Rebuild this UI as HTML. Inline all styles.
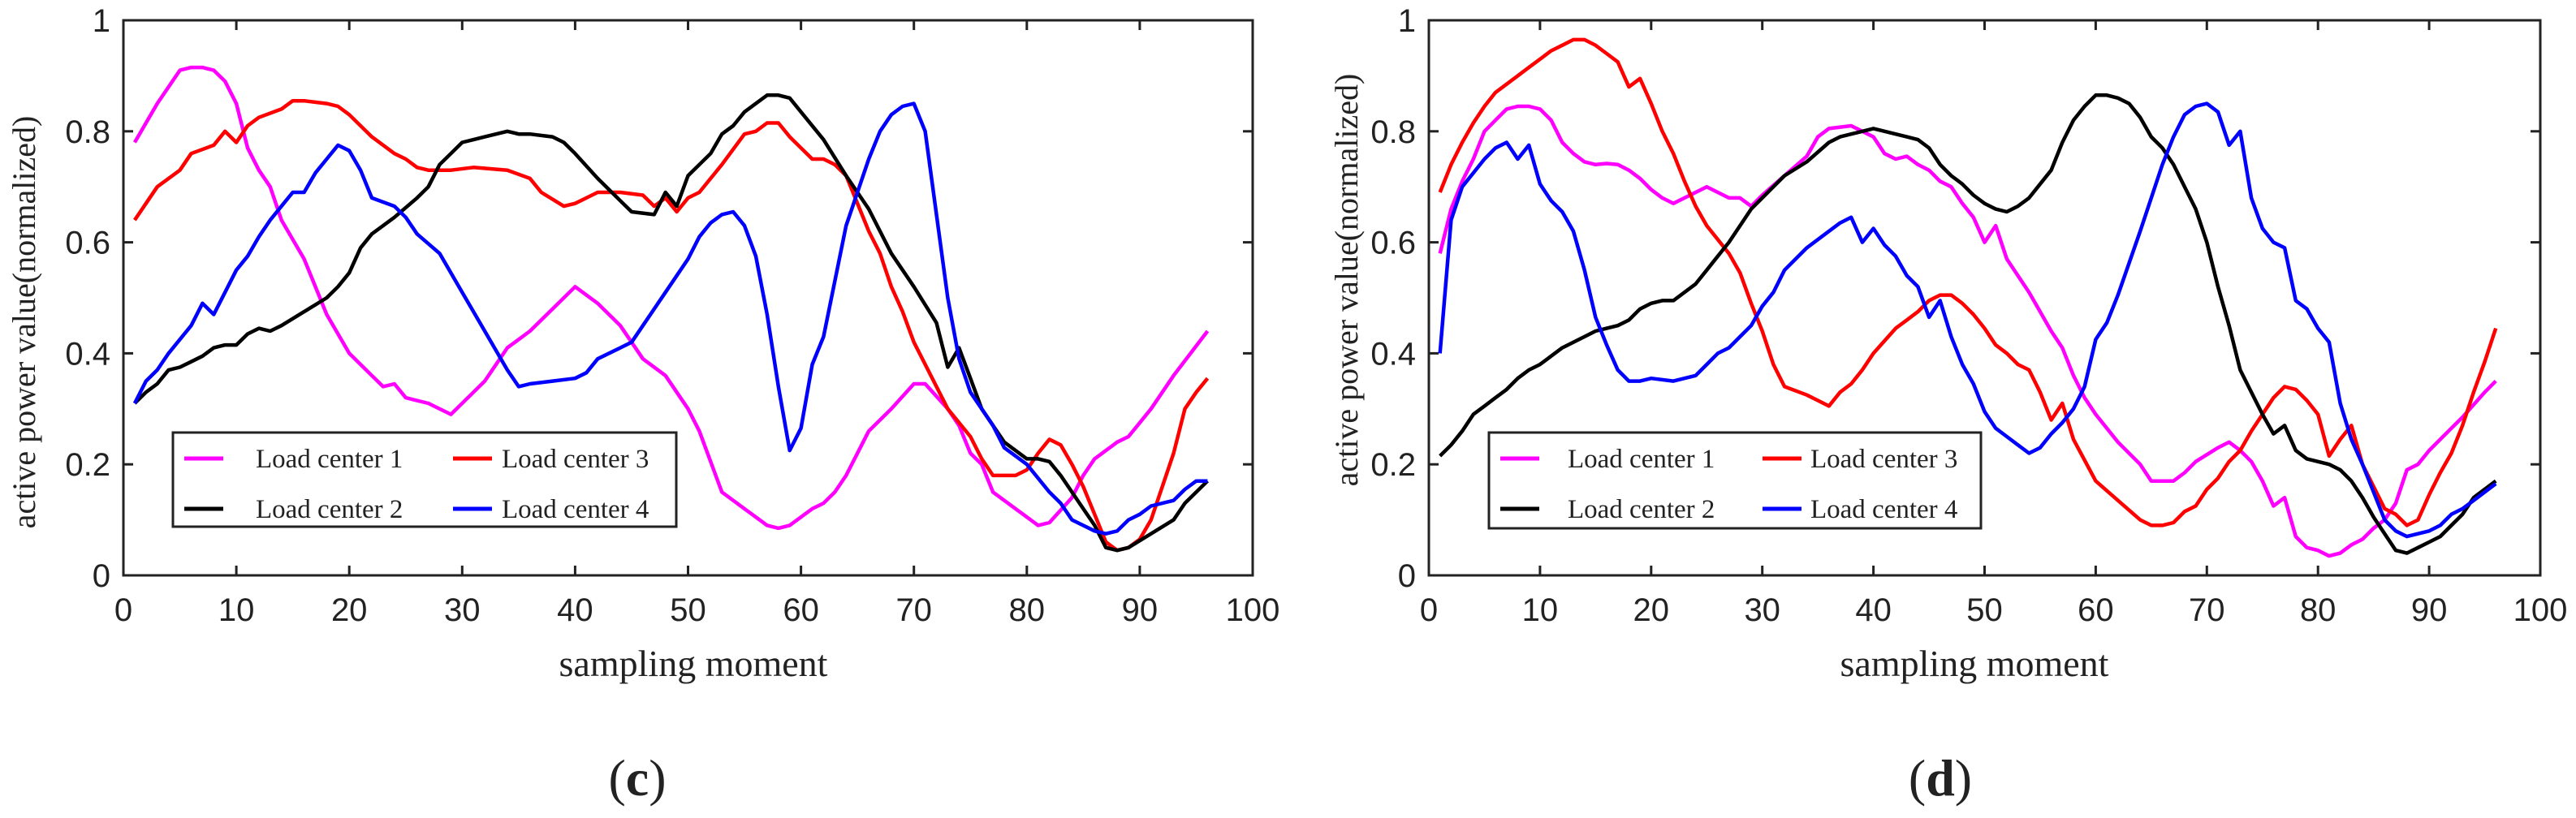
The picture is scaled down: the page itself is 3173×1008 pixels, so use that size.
<!DOCTYPE html>
<html><head><meta charset="utf-8"><style>
html,body{margin:0;padding:0;background:#fff;}
svg{display:block;}
.tick{font-family:"Liberation Sans",sans-serif;font-size:40px;fill:#222;}
.ser{font-family:"Liberation Serif",serif;fill:#222;}
</style></head><body>
<svg id="chart" width="3173" height="1008" viewBox="0 0 3173 1008" xmlns="http://www.w3.org/2000/svg"></svg>
<script>
// Panel (c) data
const cMagX=[1,3,5,6,7,8,9,10,11,12,13,14,16,18,20,22,23,24,25,27,29,31,32,34,36,38,40,42,44,46,48,50,51,53,55,57,58,59,61,62,63,64,66,68,70,71,73,74,75,76,77,79,81,82,84,85,86,88,89,91,93,96];
const cMagY=[.78,.85,.91,.915,.915,.91,.89,.85,.77,.73,.70,.64,.57,.47,.40,.36,.34,.345,.32,.31,.29,.33,.35,.41,.44,.48,.52,.49,.45,.39,.36,.30,.26,.15,.12,.09,.085,.09,.12,.13,.15,.18,.26,.30,.345,.345,.30,.27,.22,.20,.15,.12,.09,.095,.14,.18,.21,.24,.25,.30,.36,.44];
const cRedX=[1,2,3,5,6,8,9,10,11,12,14,15,16,18,19,20,22,24,25,26,27,29,31,34,36,37,39,40,41,42,44,46,47,48,49,50,51,53,55,56,57,58,59,60,61,62,63,64,65,66,67,68,69,70,72,73,75,76,77,79,80,81,82,83,84,85,86,87,88,89,90,91,92,93,94,95,96];
const cRedY=[.64,.67,.70,.73,.76,.775,.80,.78,.81,.825,.84,.855,.855,.85,.845,.83,.79,.76,.75,.735,.73,.73,.735,.73,.715,.69,.665,.67,.68,.69,.69,.685,.665,.68,.655,.68,.69,.74,.795,.80,.815,.815,.79,.77,.75,.75,.74,.72,.67,.62,.58,.52,.475,.42,.34,.30,.25,.21,.18,.18,.19,.22,.245,.235,.20,.16,.11,.06,.045,.05,.065,.10,.16,.22,.30,.33,.355];
const cBlkX=[1,2,3,4,5,6,7,8,9,10,11,12,13,14,16,18,19,20,21,22,24,26,27,28,29,30,31,32,34,35,36,38,39,40,42,44,45,47,48,49,50,52,53,54,55,57,58,59,60,62,64,66,68,70,72,73,74,75,76,78,80,81,82,83,85,86,87,88,89,91,93,94,96];
const cBlkY=[.31,.33,.345,.37,.375,.385,.395,.41,.415,.415,.435,.445,.44,.45,.475,.50,.52,.545,.59,.615,.645,.68,.70,.74,.76,.78,.785,.79,.80,.795,.795,.79,.78,.76,.715,.675,.655,.65,.69,.665,.72,.76,.795,.81,.835,.865,.865,.86,.835,.785,.72,.66,.58,.52,.455,.375,.41,.355,.30,.24,.21,.21,.205,.18,.12,.09,.05,.045,.05,.075,.10,.13,.17];
const cBluX=[1,2,3,4,6,7,8,9,10,11,12,13,14,15,16,17,18,19,20,21,22,24,25,26,28,30,32,34,35,36,38,40,41,42,44,45,46,48,50,51,52,53,54,55,56,57,58,59,60,61,62,64,66,67,68,69,70,71,72,73,74,75,77,78,80,82,83,84,86,87,88,89,90,91,93,94,95,96];
const cBluY=[.31,.35,.37,.40,.45,.49,.47,.51,.55,.575,.61,.64,.665,.69,.69,.725,.75,.775,.765,.73,.68,.665,.645,.615,.58,.51,.44,.37,.34,.345,.35,.355,.365,.39,.41,.42,.45,.51,.57,.61,.635,.65,.655,.63,.575,.47,.34,.225,.265,.38,.43,.63,.75,.80,.83,.845,.85,.80,.65,.50,.39,.33,.27,.23,.20,.15,.13,.10,.08,.075,.08,.10,.11,.125,.135,.155,.17,.17];
// Panel (d) data
const dMagX=[1,2,3,4,5,6,7,8,9,10,11,12,13,14,15,16,17,18,19,20,21,22,23,25,26,27,28,29,30,32,34,35,36,38,39,40,41,42,43,44,45,46,47,48,49,50,51,52,54,56,57,58,59,60,62,64,65,67,68,69,71,72,73,74,75,76,77,78,79,80,81,82,83,84,85,86,87,88,89,90,92,93,95,96];
const dMagY=[.58,.66,.71,.75,.80,.82,.84,.845,.845,.84,.82,.78,.76,.745,.74,.742,.74,.73,.715,.695,.68,.67,.68,.70,.69,.68,.68,.665,.685,.72,.755,.79,.805,.81,.80,.79,.76,.75,.755,.74,.73,.71,.70,.67,.645,.60,.63,.57,.51,.44,.41,.36,.32,.29,.24,.20,.17,.17,.185,.205,.23,.24,.225,.205,.17,.125,.14,.07,.05,.045,.035,.04,.055,.065,.085,.10,.13,.19,.20,.225,.265,.285,.33,.35];
const dRedX=[1,2,3,4,5,6,7,8,9,10,11,12,13,14,15,16,17,18,19,20,21,22,23,24,25,27,28,29,30,31,32,34,35,36,37,38,39,40,42,43,44,45,46,47,48,49,50,51,52,53,54,55,56,57,58,60,62,64,65,66,67,68,69,70,71,72,73,74,75,76,77,78,79,80,81,82,83,84,85,86,87,88,89,90,91,92,93,94,95,96];
const dRedY=[.69,.74,.78,.815,.845,.87,.885,.90,.915,.93,.945,.955,.965,.965,.955,.94,.925,.88,.895,.85,.80,.76,.71,.665,.63,.58,.545,.49,.44,.38,.34,.325,.315,.305,.33,.345,.37,.40,.445,.46,.475,.495,.505,.505,.49,.47,.445,.415,.40,.38,.37,.33,.28,.31,.245,.17,.135,.10,.09,.09,.095,.115,.125,.155,.175,.205,.225,.26,.29,.32,.34,.335,.315,.29,.215,.245,.27,.20,.16,.12,.11,.09,.10,.145,.185,.22,.27,.33,.385,.445];
const dBlkX=[1,2,3,4,5,6,7,8,9,10,11,12,13,14,15,16,17,18,19,20,21,22,23,24,25,26,27,28,29,30,31,32,34,36,37,38,40,41,43,44,45,46,47,48,49,50,51,52,53,54,55,56,57,58,59,60,61,62,63,64,65,66,67,68,69,70,71,72,73,74,75,76,77,78,79,80,81,82,83,84,85,86,87,88,89,90,91,92,93,94,96];
const dBlkY=[.215,.235,.26,.29,.305,.32,.335,.355,.37,.38,.395,.41,.42,.43,.44,.445,.45,.46,.48,.49,.495,.495,.51,.525,.55,.575,.60,.63,.66,.68,.70,.72,.745,.78,.79,.795,.805,.80,.79,.785,.77,.74,.72,.705,.685,.67,.66,.655,.665,.68,.705,.73,.78,.82,.845,.865,.865,.86,.85,.825,.79,.77,.74,.70,.66,.60,.52,.45,.37,.33,.29,.255,.27,.225,.21,.205,.20,.19,.17,.14,.105,.075,.045,.04,.05,.06,.07,.09,.11,.14,.17];
const dBluX=[1,2,3,4,5,6,7,8,9,10,11,12,13,14,15,16,17,18,19,20,22,24,25,26,27,28,29,30,31,32,34,36,37,38,39,40,41,42,43,44,45,46,47,48,49,50,51,52,53,54,55,56,57,58,59,60,61,62,64,66,67,68,69,70,71,72,73,74,75,76,77,78,79,80,81,82,83,84,85,86,87,88,89,90,91,92,93,94,96];
const dBluY=[.40,.64,.70,.725,.75,.77,.78,.75,.775,.705,.675,.655,.62,.55,.465,.415,.37,.35,.35,.355,.35,.36,.38,.40,.41,.43,.45,.485,.51,.55,.59,.62,.635,.645,.60,.625,.595,.575,.54,.52,.465,.495,.43,.38,.345,.295,.265,.25,.235,.22,.23,.255,.275,.30,.34,.425,.455,.505,.62,.74,.79,.83,.845,.85,.835,.775,.80,.68,.625,.60,.59,.495,.48,.445,.42,.31,.245,.20,.15,.10,.08,.07,.075,.08,.09,.11,.12,.135,.165];
const xTicks=[0,10,20,30,40,50,60,70,80,90,100];
const yTicks=[0,0.2,0.4,0.6,0.8,1];
const yTickLabels=["0","0.2","0.4","0.6","0.8","1"];
const legendLabels=["Load center 1","Load center 3","Load center 2","Load center 4"];
const colors={mag:"#ff00ff",red:"#ff0000",blk:"#000000",blu:"#0000ff"};

const NS="http://www.w3.org/2000/svg";
const svg=document.getElementById("chart");
function mk(tag,attrs,parent){const e=document.createElementNS(NS,tag);for(const k in attrs)e.setAttribute(k,attrs[k]);(parent||svg).appendChild(e);return e;}

const panels=[
 {id:"c",L:152,R:1543,T:25,B:709,series:[["mag",cMagX,cMagY],["red",cRedX,cRedY],["blk",cBlkX,cBlkY],["blu",cBluX,cBluY]],
  ylx:31,yly:397,xtx:854,lbl:785,leg:{x:213,y:533,w:620,h:116,l1:227,t1:315,l2:558,t2:618}},
 {id:"d",L:1760,R:3129,T:25,B:709,series:[["mag",dMagX,dMagY],["red",dRedX,dRedY],["blk",dBlkX,dBlkY],["blu",dBluX,dBluY]],
  ylx:1660,yly:345,xtx:2432,lbl:2390,leg:{x:1834,y:533,w:606,h:118,l1:1848,t1:1931,l2:2171,t2:2230}}
];
panels.forEach(p=>{
 const g=mk("g",{});
 
 
 const sx=v=>p.L+(p.R-p.L)*v/100;
 const sy=v=>p.B-(p.B-p.T)*v;
 // ticks
 xTicks.forEach(t=>{
  const x=sx(t);
  mk("line",{x1:x,y1:p.B,x2:x,y2:p.B-12,stroke:"#222","stroke-width":3},g);
  mk("line",{x1:x,y1:p.T,x2:x,y2:p.T+12,stroke:"#222","stroke-width":3},g);
  const tx=mk("text",{x:x,y:765,"text-anchor":"middle",class:"tick"},g);
  tx.textContent=String(t);
  
  
 });
 yTicks.forEach((t,i)=>{
  const y=sy(t);
  mk("line",{x1:p.L,y1:y,x2:p.L+12,y2:y,stroke:"#222","stroke-width":3},g);
  mk("line",{x1:p.R,y1:y,x2:p.R-12,y2:y,stroke:"#222","stroke-width":3},g);
  const tx=mk("text",{x:p.L-16,y:y+14,"text-anchor":"end",class:"tick"},g);
  tx.textContent=yTickLabels[i];
  
  
 });
 // series
 p.series.forEach(s=>{
  const pts=s[1].map((x,i)=>sx(x).toFixed(1)+","+sy(s[2][i]).toFixed(1)).join(" ");
  const pl=mk("polyline",{points:pts,fill:"none",stroke:colors[s[0]],"stroke-width":4.5,"stroke-linejoin":"round"},g);
  
  
 });
 const fr=mk("rect",{x:p.L,y:p.T,width:p.R-p.L,height:p.B-p.T,fill:"none",stroke:"#222","stroke-width":3},g);
 
 
 // legend
 const lg=p.leg;
 const lgG=mk("g",{},g);
 
 
 mk("rect",{x:lg.x,y:lg.y,width:lg.w,height:lg.h,fill:"#fff",stroke:"#222","stroke-width":3},lgG);
 const ent=[["mag",lg.l1,lg.t1,565],["red",lg.l2,lg.t2,565],["blk",lg.l1,lg.t1,627],["blu",lg.l2,lg.t2,627]];
 ent.forEach((e,i)=>{
  const eg=mk("g",{},lgG);
  
  
  mk("line",{x1:e[1],y1:e[3],x2:e[1]+48,y2:e[3],stroke:colors[e[0]],"stroke-width":5},eg);
  const t=mk("text",{x:e[2],y:e[3]+11,class:"ser","font-size":33},eg);
  t.textContent=legendLabels[i];
 });
 const yl=mk("text",{x:p.ylx,y:p.yly,"text-anchor":"middle",class:"ser","font-size":40,transform:"rotate(-90 "+p.ylx+" "+p.yly+")",dy:"12"},g);
 yl.textContent="active power value(normalized)";
 
 
 const xl=mk("text",{x:p.xtx,y:833,"text-anchor":"middle",class:"ser","font-size":46},g);
 xl.textContent="sampling moment";
 
 
 const lb=mk("text",{x:p.lbl,y:980,"text-anchor":"middle",class:"ser","font-size":64},g);
 lb.innerHTML='(<tspan font-weight="bold">'+p.id+'</tspan>)';
 
 
});
</script>
</body></html>
